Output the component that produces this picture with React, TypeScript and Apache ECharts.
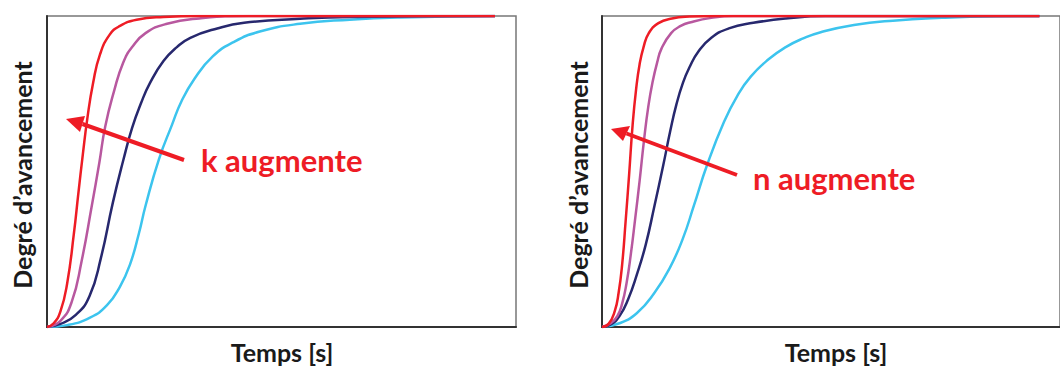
import React, { useEffect, useRef } from "react";
import * as echarts from "echarts";

// [time, degree of advancement] pairs (x max ≈ 104.7)
const leftRed: number[][] = [[0,0],[1.5,0.012],[3,0.05],[4.5,0.14],[6,0.3],[7,0.43],[8,0.555],[9,0.67],[10.3,0.785],[11.8,0.875],[14,0.94],[16.3,0.968],[20,0.988],[26,0.997],[34,1],[100,1]];
const leftMagenta: number[][] = [[0,0],[3,0.02],[5.5,0.08],[7.7,0.21],[10,0.39],[11.7,0.53],[13,0.645],[15,0.76],[17,0.85],[19,0.9],[22,0.945],[26.8,0.975],[34,0.992],[45,1],[100,1]];
const leftNavy: number[][] = [[0,0],[3,0.01],[6.5,0.04],[9.5,0.1],[12,0.22],[14.7,0.4],[17.1,0.54],[19,0.64],[21,0.72],[23,0.785],[26,0.855],[29,0.9],[32,0.93],[38,0.96],[44,0.978],[56.5,0.991],[67.6,0.997],[100,1]];
const leftCyan: number[][] = [[0,0],[4.5,0.006],[9.6,0.03],[13.4,0.07],[16.3,0.13],[18.5,0.2],[20.5,0.3],[22,0.39],[25,0.54],[27.9,0.65],[30,0.725],[33,0.8],[37,0.87],[41.5,0.915],[47.5,0.95],[56.5,0.975],[67.6,0.988],[78.8,0.995],[100,1]];

const rightRed: number[][] = [[0,0],[1.5,0.01],[2.9,0.05],[3.8,0.11],[4.6,0.2],[5.4,0.34],[6.2,0.49],[7,0.65],[7.8,0.765],[8.6,0.845],[9.5,0.9],[10.7,0.945],[12.9,0.977],[16,0.992],[20,0.998],[26,1],[100,1]];
const rightMagenta: number[][] = [[0,0],[2,0.012],[3.5,0.035],[4.6,0.075],[5.6,0.14],[6.6,0.235],[7.6,0.35],[8.6,0.47],[9.6,0.6],[10.6,0.71],[11.6,0.79],[12.6,0.85],[13.6,0.895],[15.8,0.945],[18,0.968],[20.3,0.98],[25,0.994],[30,1],[100,1]];
const rightNavy: number[][] = [[0,0],[2,0.008],[4,0.035],[6,0.09],[8,0.17],[10,0.265],[12,0.39],[14,0.52],[15.6,0.63],[17,0.715],[18.5,0.785],[20,0.835],[22,0.885],[25,0.93],[29,0.96],[34.6,0.978],[42,0.992],[51,1],[100,1]];
const rightCyan: number[][] = [[0,0],[4,0.012],[8,0.045],[12,0.11],[15.5,0.19],[18.5,0.285],[21,0.39],[24,0.52],[27.9,0.66],[31,0.745],[34,0.805],[38,0.86],[42,0.9],[46,0.928],[50,0.948],[57.6,0.971],[66.5,0.985],[77.7,0.994],[90,0.999],[100,1]];

const colors = ["#ee1c25", "#b8589f", "#27286e", "#3cc4ee"];
const xTitle = "Temps [s]";
const yTitle = "Degré d’avancement";
const leftNote = "k augmente";
const rightNote = "n augmente";

export default function App() {
  const ref = useRef<HTMLDivElement>(null);
  useEffect(() => {
    if (!ref.current) return;
    const chart = echarts.init(ref.current, undefined, { renderer: "svg" });
    const grids = [
      { left: 47, top: 16, width: 469, height: 311 },
      { left: 602, top: 16, width: 469, height: 311 },
    ];
    const mkX = (i: number) => ({
      type: "value", gridIndex: i, min: 0, max: 104.7,
      axisLine: { show: true, lineStyle: { color: "#333", width: 2 } },
      axisTick: { show: false }, axisLabel: { show: false }, splitLine: { show: false },
    });
    const mkY = (i: number) => ({
      type: "value", gridIndex: i, min: 0, max: 1,
      axisLine: { show: true, lineStyle: { color: "#333", width: 2 } },
      axisTick: { show: false }, axisLabel: { show: false }, splitLine: { show: false },
    });
    const sets = [[leftRed, leftMagenta, leftNavy, leftCyan], [rightRed, rightMagenta, rightNavy, rightCyan]];
    const series: any[] = [];
    sets.forEach((s, gi) => s.forEach((d, ci) => series.push({
      type: "line", xAxisIndex: gi, yAxisIndex: gi, data: d, showSymbol: false,
      smooth: 0.5,
      lineStyle: { color: colors[ci], width: 2.5 }, z: 10 - ci,
    })));
    const font = "Lato, 'Open Sans', sans-serif";
    const txt = (x: number, y: number, text: string, size: number, color: string, rotation = 0, align = "center") => ({
      type: "text", x, y, rotation, z: 100,
      style: { text, fill: color, font: `bold ${size}px ${font}`, textAlign: align, textVerticalAlign: "middle" },
    });
    const arrow = (x1: number, y1: number, tip: number[], w1: number[], w2: number[]) => ([
      { type: "line", z: 100, shape: { x1, y1, x2: (w1[0] + w2[0]) / 2, y2: (w1[1] + w2[1]) / 2 }, style: { stroke: "#ee1c25", lineWidth: 4 } },
      { type: "polygon", z: 100, shape: { points: [tip, w1, w2] }, style: { fill: "#ee1c25" } },
    ]);
    chart.setOption({
      animation: false,
      grid: grids.map((g) => ({ ...g, show: true, borderColor: "#777", borderWidth: 1.5 })),
      xAxis: [mkX(0), mkX(1)],
      yAxis: [mkY(0), mkY(1)],
      series,
      graphic: [
        txt(282, 352, xTitle, 25, "#1a1a1a"),
        txt(836, 352, xTitle, 25, "#1a1a1a"),
        txt(22, 175, yTitle, 25, "#1a1a1a", Math.PI / 2),
        txt(578, 175, yTitle, 25, "#1a1a1a", Math.PI / 2),
        txt(201, 160, leftNote, 31, "#ee1c25", 0, "left"),
        txt(753, 178, rightNote, 31, "#ee1c25", 0, "left"),
        ...arrow(184, 160, [66, 119], [85, 116], [80, 132]),
        ...arrow(737, 175, [611, 129], [630, 126], [623, 141]),
      ],
    });
    return () => chart.dispose();
  }, []);
  return <div ref={ref} style={{ position: "absolute", left: 0, top: 0, width: 1060, height: 368, background: "#fff" }} />;
}
